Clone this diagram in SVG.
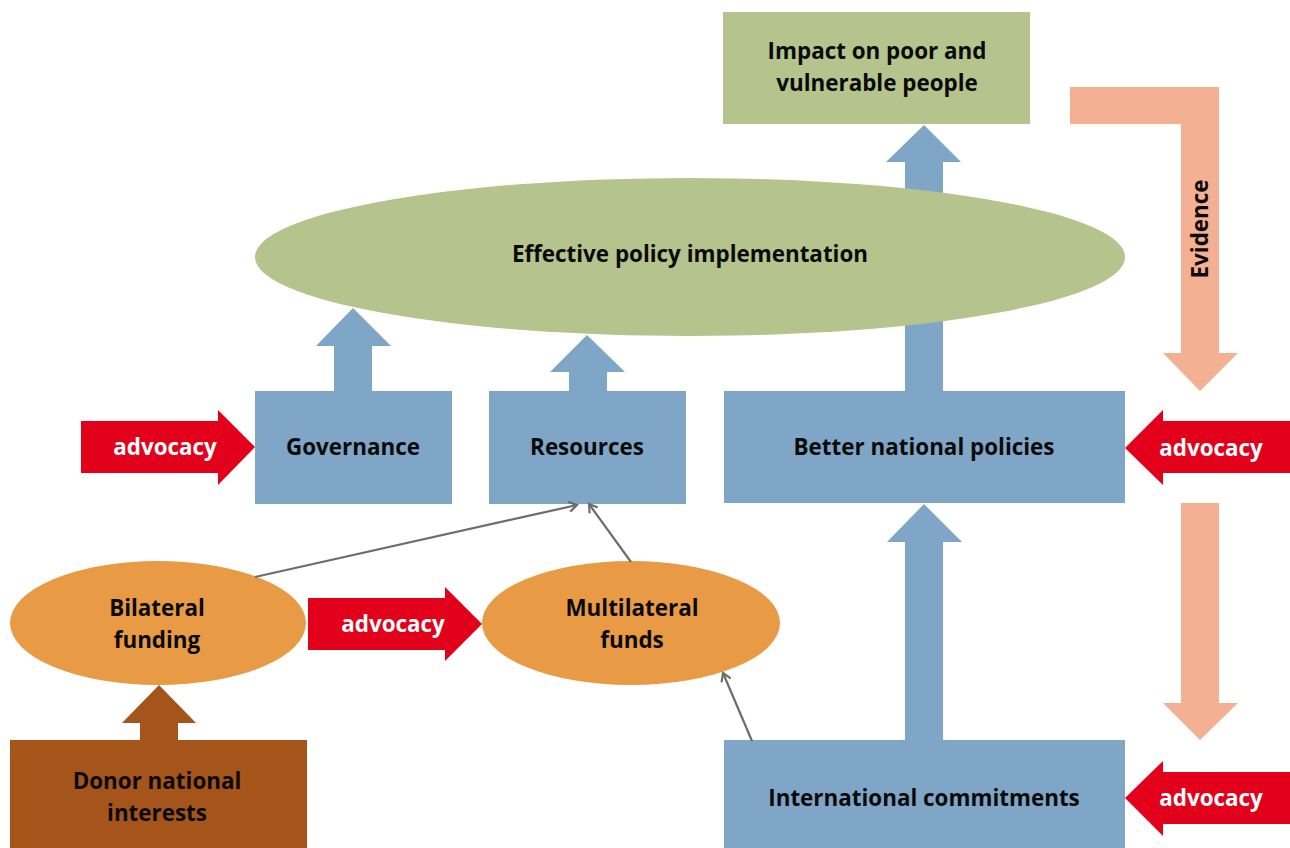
<svg xmlns="http://www.w3.org/2000/svg" width="1290" height="848" viewBox="0 0 1290 848">
<style>
.blue{fill:#7fa6c6}
.green{fill:#b5c38d}
.orange{fill:#e89a44}
.brown{fill:#a5541a}
.red{fill:#e2001a}
.peach{fill:#f4b093}
text{font-family:"Open Sans","Noto Sans","DejaVu Sans",sans-serif;font-weight:bold;font-size:22.4px;text-anchor:middle}
.dark{fill:#0a0a0a}
.white{fill:#fff}
.conn{stroke:#6d6d6d;stroke-width:2.2;fill:none}
</style>
<defs>
<marker id="open" markerWidth="12" markerHeight="12" refX="9" refY="6" orient="auto" markerUnits="userSpaceOnUse">
<path d="M1,1 L9,6 L1,11" fill="none" stroke="#6d6d6d" stroke-width="2.2"/>
</marker>
</defs>
<rect width="1290" height="848" fill="#fff"/>

<g id="evidence">
<path class="peach" d="M1070,87 H1219 V353 H1238 L1200,391 L1163,353 H1181 V124 H1070 Z"/>
<text class="dark" transform="translate(1208,229) rotate(-90)">Evidence</text>
</g>
<g id="peach-down">
<path class="peach" d="M1181,503 H1219 V703 H1238 L1200,740 L1163,703 H1181 Z"/>
</g>

<g id="impact">
<rect class="green" x="723" y="12" width="307" height="112"/>
<text class="dark" x="877" y="59">Impact on poor and</text>
<text class="dark" x="877" y="91">vulnerable people</text>
</g>

<g id="arrow-better-impact">
<path class="blue" d="M905,391 V162 H886 L924,125 L961,162 H943 V391 Z"/>
</g>
<g id="arrow-gov-up">
<path class="blue" d="M334,391 V346 H316 L353,308 L391,346 H372 V391 Z"/>
</g>
<g id="arrow-res-up">
<path class="blue" d="M569,391 V372 H550 L587,335 L625,372 H607 V391 Z"/>
</g>

<g id="effective">
<ellipse class="green" cx="690" cy="257" rx="435" ry="79"/>
<text class="dark" x="690" y="262">Effective policy implementation</text>
</g>

<g id="governance">
<rect class="blue" x="255" y="391" width="197" height="113"/>
<text class="dark" x="353" y="455">Governance</text>
</g>
<g id="resources">
<rect class="blue" x="489" y="391" width="197" height="113"/>
<text class="dark" x="587" y="455">Resources</text>
</g>
<g id="better">
<rect class="blue" x="724" y="391" width="401" height="112"/>
<text class="dark" x="924" y="455">Better national policies</text>
</g>

<g id="arrow-int-better">
<path class="blue" d="M905,740 V542 H887 L924,504 L962,542 H943 V740 Z"/>
</g>
<g id="international">
<rect class="blue" x="724" y="740" width="401" height="108"/>
<text class="dark" x="924" y="806">International commitments</text>
</g>

<g id="bilateral">
<ellipse class="orange" cx="158" cy="623" rx="148" ry="62"/>
<text class="dark" x="157" y="616">Bilateral</text>
<text class="dark" x="157" y="648">funding</text>
</g>
<g id="multilateral">
<ellipse class="orange" cx="631" cy="623" rx="149" ry="62"/>
<text class="dark" x="632" y="616">Multilateral</text>
<text class="dark" x="632" y="648">funds</text>
</g>

<g id="arrow-donor-up">
<path class="brown" d="M140,740 V723 H122 L159,685 L196,723 H178 V740 Z"/>
</g>
<g id="donor">
<rect class="brown" x="10" y="740" width="297" height="108"/>
<text class="dark" x="157" y="789">Donor national</text>
<text class="dark" x="157" y="821">interests</text>
</g>

<g id="advocacy-gov">
<path class="red" d="M81,421 H218 V410 L255,447 L218,485 V473 H81 Z"/>
<text class="white" x="165" y="455">advocacy</text>
</g>
<g id="advocacy-mid">
<path class="red" d="M308,598 H445 V587 L482,624 L445,661 V650 H308 Z"/>
<text class="white" x="393" y="632">advocacy</text>
</g>
<g id="advocacy-better">
<path class="red" d="M1290,421 H1163 V410 L1125,448 L1163,485 V473 H1290 Z"/>
<text class="white" x="1211" y="456">advocacy</text>
</g>
<g id="advocacy-int">
<path class="red" d="M1290,772 H1163 V761 L1125,798 L1163,836 V824 H1290 Z"/>
<text class="white" x="1211" y="806">advocacy</text>
</g>

<g id="connectors">
<line class="conn" x1="255" y1="577" x2="577" y2="505" marker-end="url(#open)"/>
<line class="conn" x1="631" y1="562" x2="589" y2="504" marker-end="url(#open)"/>
<line class="conn" x1="752" y1="741" x2="723" y2="673" marker-end="url(#open)"/>
</g>
</svg>
